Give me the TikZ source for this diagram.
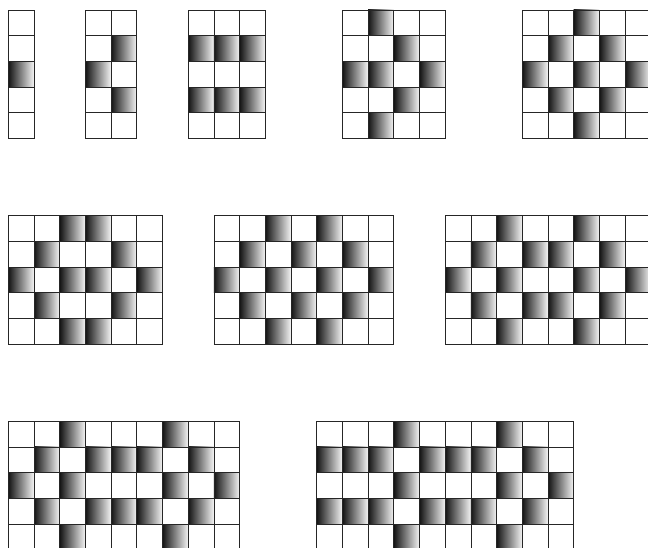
\documentclass[tikz,border=0pt]{standalone}
\usetikzlibrary{shadings}
% one board: origin x, origin y, columns, lit cells col/row
\newcommand\weave[4]{%
 \begin{scope}[shift={(#1,#2)}]
  \foreach \c/\r in {#4} \shade[lit] (\c,\r) rectangle ++(1,1);
  \draw[boardlines] (0,0) grid (#3,5);
 \end{scope}}

\begin{document}
\begin{tikzpicture}[x=9mm,y=-9mm,lit/.style={left color=black!92,right color=black!4},boardlines/.style={step=9mm,line width=.8pt,draw=black!85}]
 \clip (-0.323,-0.389) rectangle (24.89,20.895);
 % first row
 \weave{0}{0}{1}{0/2}
 \weave{3}{0}{2}{1/1,0/2,1/3}
 \weave{7}{0}{3}{0/1,1/1,2/1,0/3,1/3,2/3}
 \weave{13}{0}{4}{1/0,2/1,0/2,1/2,3/2,2/3,1/4}
 \weave{20}{0}{5}{2/0,1/1,3/1,0/2,2/2,4/2,1/3,3/3,2/4}
 % second row
 \weave{0}{8}{6}{2/0,3/0,1/1,4/1,0/2,2/2,3/2,5/2,1/3,4/3,2/4,3/4}
 \weave{8}{8}{7}{2/0,4/0,1/1,3/1,5/1,0/2,2/2,4/2,6/2,1/3,3/3,5/3,2/4,4/4}
 \weave{17}{8}{8}{2/0,5/0,1/1,3/1,4/1,6/1,0/2,2/2,5/2,7/2,1/3,3/3,4/3,6/3,2/4,5/4}
 % third row
 \weave{0}{16}{9}{2/0,6/0,1/1,3/1,4/1,5/1,7/1,0/2,2/2,6/2,8/2,1/3,3/3,4/3,5/3,7/3,2/4,6/4}
 \weave{12}{16}{10}{3/0,7/0,0/1,1/1,2/1,4/1,5/1,6/1,8/1,3/2,7/2,9/2,0/3,1/3,2/3,4/3,5/3,6/3,8/3,3/4,7/4}
\end{tikzpicture}
\end{document}
